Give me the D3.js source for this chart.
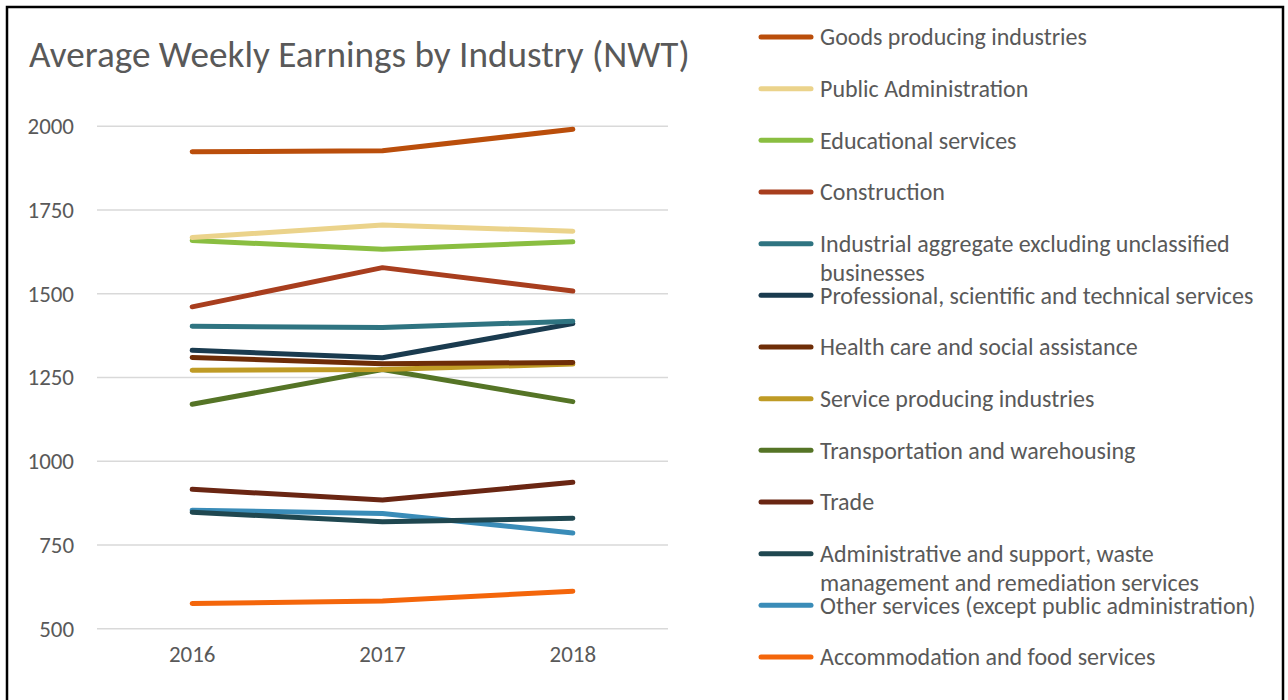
<!DOCTYPE html>
<html>
<head>
<meta charset="utf-8">
<script src="https://cdn.jsdelivr.net/npm/d3@7"></script>
<style>
  body { margin: 0; background: #fff; }
  svg { display: block; }
</style>
</head>
<body>
<svg id="chart" width="1288" height="700"></svg>
<script>
// ---- data ----
var years = ["2016", "2017", "2018"];
var yTicks = [500, 750, 1000, 1250, 1500, 1750, 2000];

var seriesNames = [
  "Goods producing industries",
  "Public Administration",
  "Educational services",
  "Construction",
  "Industrial aggregate excluding unclassified businesses",
  "Professional, scientific and technical services",
  "Health care and social assistance",
  "Service producing industries",
  "Transportation and warehousing",
  "Trade",
  "Administrative and support, waste management and remediation services",
  "Other services (except public administration)",
  "Accommodation and food services"
];

// legend lines as Excel wrapped them
var legendLines = [
  ["Goods producing industries"],
  ["Public Administration"],
  ["Educational services"],
  ["Construction"],
  ["Industrial aggregate excluding unclassified", "businesses"],
  ["Professional, scientific and technical services"],
  ["Health care and social assistance"],
  ["Service producing industries"],
  ["Transportation and warehousing"],
  ["Trade"],
  ["Administrative and support, waste", "management and remediation services"],
  ["Other services (except public administration)"],
  ["Accommodation and food services"]
];

var goods = [1924, 1927, 1991];
var publicAdmin = [1668, 1705, 1687];
var education = [1659, 1633, 1655];
var construction = [1461, 1578, 1508];
var industrialAgg = [1403, 1399, 1418];
var professional = [1331, 1309, 1411];
var healthCare = [1310, 1291, 1295];
var serviceProd = [1272, 1274, 1290];
var transport = [1170, 1274, 1178];
var trade = [916, 884, 937];
var adminSupport = [848, 819, 830];
var otherServices = [854, 844, 786];
var accommodation = [575, 583, 612];

var seriesValues = [goods, publicAdmin, education, construction, industrialAgg,
  professional, healthCare, serviceProd, transport, trade, adminSupport,
  otherServices, accommodation];

var seriesColors = ["#BA4E0B", "#EBD38B", "#8ABE41", "#A83E1E", "#2F7481",
  "#1A3B4F", "#6E2D07", "#BF9B25", "#557426", "#6A2613", "#1F4750",
  "#3A8CB8", "#F4660B"];

// ---- layout ----
var textCol = "#595959";
var fontFam = "Carlito, Calibri, Lato, 'Open Sans', sans-serif";

var svg = d3.select("#chart");

// frame (no bottom edge visible in the picture)
svg.append("rect")
  .attr("x", 7)
  .attr("y", 7)
  .attr("width", 1276)
  .attr("height", 720)
  .attr("fill", "#fff")
  .attr("stroke", "#000")
  .attr("stroke-width", 2.5);

/*
  scales a text's font size so its width matches the target width
*/
function fitFont(sel, target) {
  var w = sel.node().getComputedTextLength();
  var s = parseFloat(sel.attr("font-size"));
  return s * target / w;
}

var title = svg.append("text")
  .attr("x", 29)
  .attr("y", 67)
  .attr("font-family", fontFam)
  .attr("font-weight", 300)
  .attr("font-size", 34)
  .attr("fill", textCol)
  .text("Average Weekly Earnings by Industry (NWT)");
title.attr("font-size", fitFont(title, 661));

var x = d3.scaleBand()
  .domain(years)
  .range([97, 668]);

var y = d3.scaleLinear()
  .domain([500, 2000])
  .range([628.7, 126.3]);

// work out the tick label size from a probe
var probe = svg.append("text")
  .attr("font-family", fontFam)
  .attr("font-size", 20)
  .text("2000");
var tickSize = fitFont(probe, 46.5);
probe.remove();

// gridlines
svg.append("g")
  .selectAll("line")
  .data(yTicks)
  .join("line")
    .attr("x1", 97)
    .attr("x2", 668)
    .attr("y1", function(d) { return y(d); })
    .attr("y2", function(d) { return y(d); })
    .attr("stroke", "#D9D9D9")
    .attr("stroke-width", 1.5);

// y axis labels
var yAxis = svg.append("g")
  .attr("transform", "translate(97,0)")
  .call(d3.axisLeft(y).tickValues(yTicks).tickSize(0).tickPadding(23).tickFormat(d3.format("d")));
yAxis.select(".domain").remove();
yAxis.selectAll("text")
  .attr("font-family", fontFam)
  .attr("font-size", tickSize)
  .attr("fill", textCol);

// x axis labels
var xAxis = svg.append("g")
  .attr("transform", "translate(0,640)")
  .call(d3.axisBottom(x).tickSize(0).tickPadding(0));
xAxis.select(".domain").remove();
xAxis.selectAll("text")
  .attr("font-family", fontFam)
  .attr("font-size", tickSize)
  .attr("fill", textCol)
  .attr("dy", "0.95em");

// lines
var line = d3.line()
  .x(function(d, i) { return x(years[i]) + x.bandwidth() / 2; })
  .y(function(d) { return y(d); });

var order = d3.range(seriesValues.length).reverse();
svg.append("g")
  .selectAll("path")
  .data(order)
  .join("path")
    .attr("d", function(i) { return line(seriesValues[i]); })
    .attr("fill", "none")
    .attr("stroke", function(i) { return seriesColors[i]; })
    .attr("stroke-width", 5)
    .attr("stroke-linecap", "round")
    .attr("stroke-linejoin", "round");

// legend
var legendTop = 37;
var legendStep = 51.67;

var probe2 = svg.append("text")
  .attr("font-family", fontFam)
  .attr("font-size", 20)
  .text(legendLines[0][0]);
var legendSize = fitFont(probe2, 267);
probe2.remove();

var legend = svg.append("g")
  .selectAll("g")
  .data(seriesNames)
  .join("g")
    .attr("transform", function(d, i) { return "translate(0," + (legendTop + i * legendStep) + ")"; });

legend.append("line")
  .attr("x1", 761)
  .attr("x2", 811)
  .attr("y1", 0)
  .attr("y2", 0)
  .attr("stroke", function(d, i) { return seriesColors[i]; })
  .attr("stroke-width", 5)
  .attr("stroke-linecap", "round");

legend.each(function(d, i) {
  var t = d3.select(this).append("text")
    .attr("x", 820)
    .attr("y", 0)
    .attr("font-family", fontFam)
    .attr("font-size", legendSize)
    .attr("fill", textCol);
  legendLines[i].forEach(function(s, k) {
    t.append("tspan")
      .attr("x", 820)
      .attr("y", k * 29.3)
      .attr("dy", "0.35em")
      .text(s);
  });
});
</script>
</body>
</html>
